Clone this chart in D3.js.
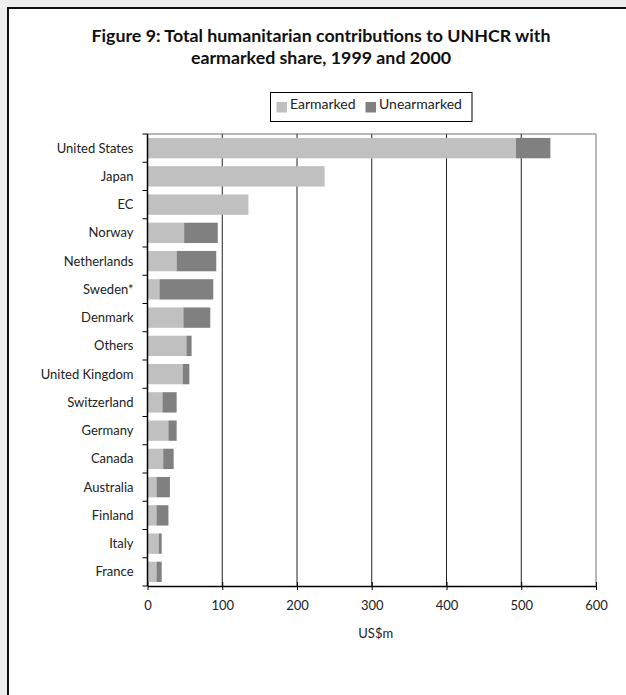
<!DOCTYPE html>
<html><head><meta charset="utf-8">
<script src="https://cdn.jsdelivr.net/npm/d3@7"></script>
<style>
html,body{margin:0;padding:0;background:#eeeeee;}
svg{display:block;}
</style></head>
<body>
<svg id="chart" width="626" height="695"></svg>
<script>
const categories = ["United States","Japan","EC","Norway","Netherlands","Sweden*","Denmark","Others","United Kingdom","Switzerland","Germany","Canada","Australia","Finland","Italy","France"];
const earmarked   = [493, 237, 135, 49, 39, 16, 48, 52, 47, 20, 28, 21, 12, 12, 15, 12];
const unearmarked = [46, 0, 0, 45, 53, 72, 36, 7, 9, 19, 11, 14, 18, 16, 4, 7];
const seriesNames = ["Earmarked","Unearmarked"];
const seriesColors = ["#c0c0c0","#808080"];
const xTicks = [0,100,200,300,400,500,600];
const titleLines = ["Figure 9: Total humanitarian contributions to UNHCR with","earmarked share, 1999 and 2000"];
const xLabel = "US$m";

const svg = d3.select("#chart");
const W = 626, H = 695;
const font = "Lato, 'Open Sans', sans-serif";

// frame
svg.append("rect").attr("x",0).attr("y",0).attr("width",W).attr("height",H).attr("fill","#eeeeee");
svg.append("rect").attr("x",8).attr("y",8).attr("width",W).attr("height",H).attr("fill","#ffffff");
svg.append("line").attr("x1",8).attr("x2",8).attr("y1",7).attr("y2",H).attr("stroke","#111").attr("stroke-width",2);
svg.append("line").attr("x1",7).attr("x2",W).attr("y1",8).attr("y2",8).attr("stroke","#111").attr("stroke-width",2);

// title
svg.selectAll("text.title").data(titleLines).enter().append("text")
  .attr("class","title")
  .attr("x",321).attr("y",(d,i)=>42+i*22)
  .attr("text-anchor","middle")
  .attr("font-family",font).attr("font-weight","bold").attr("font-size",17.8)
  .attr("fill","#111")
  .text(d=>d);

const m = {left:147.5, right:596, top:134, bottom:586};
const x = d3.scaleLinear().domain([0,600]).range([m.left,m.right]);
const y = d3.scaleBand().domain(categories).range([m.top,m.bottom]).paddingInner(0.28).paddingOuter(0.14);

// plot border top/right (grey)
svg.append("line").attr("x1",m.left).attr("x2",m.right).attr("y1",m.top).attr("y2",m.top).attr("stroke","#a0a0a0").attr("stroke-width",1.5);
svg.append("line").attr("x1",m.right).attr("x2",m.right).attr("y1",m.top).attr("y2",m.bottom).attr("stroke","#a0a0a0").attr("stroke-width",1.5);

// gridlines
svg.append("g").selectAll("line").data(xTicks.slice(1,-1)).enter().append("line")
  .attr("x1",d=>x(d)).attr("x2",d=>x(d)).attr("y1",m.top).attr("y2",m.bottom)
  .attr("stroke","#222").attr("stroke-width",1);

// bars
const data = categories.map((c,i)=>({c, e:earmarked[i], u:unearmarked[i]}));
const stack = d3.stack().keys(["e","u"])(data);
svg.append("g").selectAll("g").data(stack).enter().append("g")
  .attr("fill",(d,i)=>seriesColors[i])
  .selectAll("rect").data(d=>d.filter(p=>p[1]>p[0])).enter().append("rect")
  .attr("x",d=>x(d[0])).attr("width",d=>x(d[1])-x(d[0]))
  .attr("y",d=>y(d.data.c)).attr("height",y.bandwidth());

// x axis
const xAxis = d3.axisBottom(x).tickValues(xTicks).tickSize(5).tickSizeOuter(0);
const gx = svg.append("g").attr("transform",`translate(0,${m.bottom})`).call(xAxis);
gx.select(".domain").attr("stroke","#000").attr("stroke-width",1.5);
gx.selectAll(".tick line").attr("stroke","#000").attr("y1",-4).attr("y2",4);
gx.selectAll(".tick text").attr("font-family",font).attr("font-size",13).attr("fill","#222").attr("dy","1.25em");

// y axis: ticks at band boundaries
const boundaries = d3.range(categories.length+1).map(i=>m.top + i*(m.bottom-m.top)/categories.length);
svg.append("line").attr("x1",m.left).attr("x2",m.left).attr("y1",m.top).attr("y2",m.bottom).attr("stroke","#000").attr("stroke-width",1.5);
svg.append("g").selectAll("line").data(boundaries).enter().append("line")
  .attr("x1",m.left-5).attr("x2",m.left).attr("y1",d=>d).attr("y2",d=>d).attr("stroke","#000").attr("stroke-width",1);
svg.append("g").selectAll("text").data(categories).enter().append("text")
  .attr("x",m.left-14).attr("y",d=>y(d)+y.bandwidth()/2).attr("dy","0.35em")
  .attr("text-anchor","end").attr("font-family",font).attr("font-size",13).attr("fill","#222")
  .text(d=>d);

// x label
svg.append("text").attr("x",(m.left+m.right)/2+4).attr("y",638).attr("text-anchor","middle")
  .attr("font-family",font).attr("font-size",13).attr("fill","#222").text(xLabel);

// legend
const lg = svg.append("g");
lg.append("rect").attr("x",270.5).attr("y",92.5).attr("width",201.5).attr("height",29).attr("fill","#fff").attr("stroke","#000").attr("stroke-width",1);
const legX = [276.5, 365.5];
seriesNames.forEach((s,i)=>{
  lg.append("rect").attr("x",legX[i]).attr("y",102).attr("width",10.5).attr("height",10.5).attr("fill",seriesColors[i]);
  lg.append("text").attr("x",legX[i]+13.5).attr("y",108.5).attr("font-family",font).attr("font-size",14).attr("fill","#222").text(s);
});
</script>
</body></html>
